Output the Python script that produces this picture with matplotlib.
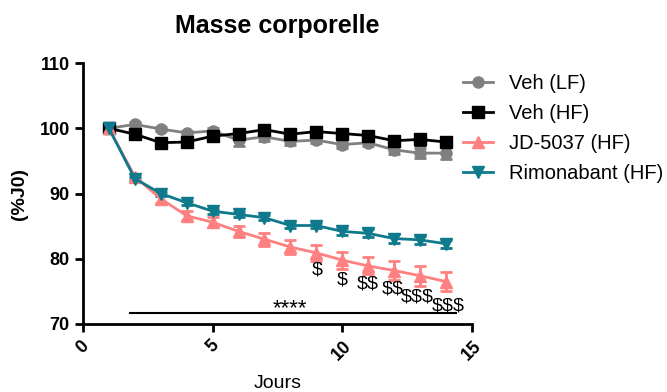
"""Masse corporelle : évolution du poids (%J0) selon les groupes."""

import matplotlib.pyplot as plt
import numpy as np
from matplotlib.lines import Line2D

plt.rcParams["font.family"] = ["Liberation Sans", "DejaVu Sans"]
plt.rcParams["text.parse_math"] = False

# jours de mesure
jours = np.arange(1, 15)

# moyennes (%J0)
veh_lf = [100.0, 100.6, 99.9, 99.3, 99.6, 98.2, 98.7, 98.0, 98.2, 97.5, 97.8, 96.7, 96.2, 96.2]
veh_hf = [100.0, 99.1, 97.8, 97.9, 98.8, 99.2, 99.8, 99.1, 99.5, 99.2, 98.9, 98.1, 98.3, 97.9]
jd5037 = [100.0, 92.6, 89.2, 86.6, 85.6, 84.2, 83.0, 81.8, 80.9, 79.8, 78.9, 78.2, 77.4, 76.5]
rimonabant = [100.0, 92.3, 90.0, 88.6, 87.3, 86.8, 86.3, 85.1, 85.1, 84.2, 83.9, 83.1, 82.9, 82.3]

# erreurs standards
veh_lf_err = [0.2, 0.3, 0.3, 0.3, 0.4, 0.9, 0.6, 0.5, 0.5, 0.5, 0.5, 0.6, 0.8, 0.9]
veh_hf_err = [0.2, 0.3, 0.3, 0.4, 0.4, 0.5, 0.5, 0.5, 0.5, 0.5, 0.5, 0.6, 0.8, 0.7]
jd5037_err = [0.2, 0.4, 0.6, 0.7, 0.8, 0.9, 1.0, 1.1, 1.2, 1.3, 1.3, 1.4, 1.5, 1.5]
rimonabant_err = [0.2, 0.3, 0.3, 0.3, 0.4, 0.4, 0.4, 0.4, 0.4, 0.5, 0.6, 0.7, 0.6, 0.6]

# annotations de significativité
sig_x = [9.05, 10.0, 11.0, 11.95, 12.9, 14.1]
sig_y = [78.3, 76.8, 76.2, 75.3, 74.2, 72.8]
sig_labels = ["$", "$", "$$", "$$", "$$$", "$$$"]


def main():
    fig = plt.figure(figsize=(6.67, 3.92), dpi=100)
    ax = fig.add_axes([0.1244, 0.1735, 0.583, 0.6655])

    series = [
        (veh_lf, veh_lf_err, "Veh (LF)", "#808080", "o"),
        (veh_hf, veh_hf_err, "Veh (HF)", "black", "s"),
        (jd5037, jd5037_err, "JD-5037 (HF)", "#FF8080", "^"),
        (rimonabant, rimonabant_err, "Rimonabant (HF)", "#0E7A8C", "v"),
    ]
    handles = []
    for y, err, label, col, mk in series:
        ax.errorbar(
            jours, y, yerr=err, color=col, marker=mk,
            markersize=8, linewidth=2, elinewidth=2, capsize=4, capthick=2,
        )
        handles.append(Line2D([], [], color=col, marker=mk, markersize=8,
                              linewidth=2, label=label))

    # barre horizontale + ****
    ax.plot([1.8, 14.4], [71.7, 71.7], color="black", linewidth=1.5)
    ax.text(8.0, 72.3, "****", ha="center", va="center", fontsize=16)
    for x, y, s in zip(sig_x, sig_y, sig_labels):
        ax.text(x, y, s, ha="center", va="center", fontsize=14)

    ax.set_xlim(0, 15)
    ax.set_ylim(70, 110)
    ax.set_xticks([0, 5, 10, 15])
    ax.set_yticks([70, 80, 90, 100, 110])
    for lbl in ax.get_xticklabels():
        lbl.set_rotation(45)
        lbl.set_fontweight("bold")
    for lbl in ax.get_yticklabels():
        lbl.set_fontweight("bold")
    ax.tick_params(labelsize=13, width=2, length=6)

    ax.spines["top"].set_visible(False)
    ax.spines["right"].set_visible(False)
    ax.spines["left"].set_linewidth(2)
    ax.spines["bottom"].set_linewidth(2)

    ax.set_title("Masse corporelle", fontsize=18, fontweight="bold", pad=22)
    ax.set_xlabel("Jours", fontsize=14, labelpad=8)
    ax.set_ylabel("(%J0)", fontsize=14, fontweight="bold", labelpad=8)

    ax.legend(
        handles=handles, loc="upper left", bbox_to_anchor=(0.977, 0.958),
        borderaxespad=0, borderpad=0, frameon=False, fontsize=14.5,
        handlelength=1.5, labelspacing=0.55, handletextpad=0.8,
    )

    fig.savefig("out.png", dpi=100)


if __name__ == "__main__":
    main()
